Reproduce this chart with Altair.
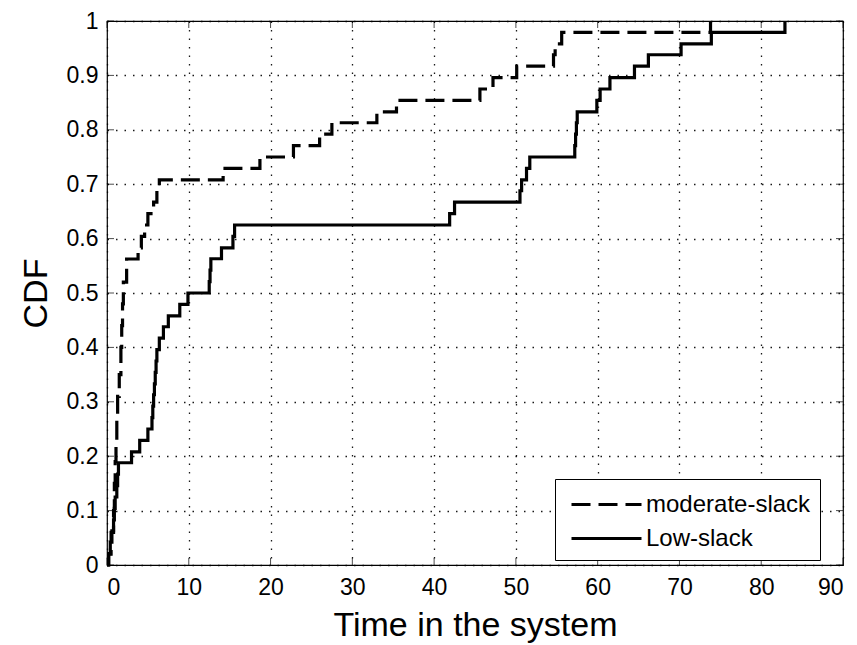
import altair as alt
import pandas as pd

series_names = ["moderate-slack", "Low-slack"]

mod_x = [0, 0.2, 0.5, 0.8, 0.9, 1.0, 1.1, 1.2, 1.3, 1.5, 1.7, 1.8, 1.9, 2.0, 2.4,
         3.8, 4.2, 4.6, 5.0, 5.7, 6.1, 6.4, 14.2, 18.7, 22.8, 26.0, 27.5, 33.0, 35.4,
         45.6, 47.2, 50.1, 54.6, 54.8, 55.6, 73.8]
mod_y = [0, 0.02, 0.06, 0.10, 0.15, 0.19, 0.23, 0.27, 0.31, 0.35, 0.40, 0.44, 0.48, 0.52, 0.5625,
         0.583, 0.604, 0.625, 0.646, 0.667, 0.688, 0.708, 0.729, 0.75, 0.771, 0.792, 0.813, 0.833, 0.854,
         0.875, 0.896, 0.917, 0.938, 0.958, 0.979, 1.0]

low_x = [0, 0.2, 0.4, 0.6, 0.8, 0.9, 1.0, 1.2, 1.3, 1.4, 3.0, 4.0, 5.0,
         5.5, 5.6, 5.7, 5.8, 5.9, 6.0, 6.1, 6.4, 6.9, 7.5, 8.9, 9.9,
         12.5, 12.6, 12.7, 14.0, 15.4, 15.6, 41.9, 42.5, 50.5, 50.7, 51.3, 51.7,
         57.2, 57.3, 57.4, 57.5, 59.9, 60.3, 61.5, 64.5, 66.2, 70.2, 73.9, 82.9]
low_y = [0, 0.021, 0.042, 0.063, 0.083, 0.104, 0.125, 0.146, 0.167, 0.188, 0.208, 0.229, 0.25,
         0.271, 0.292, 0.313, 0.333, 0.354, 0.375, 0.396, 0.417, 0.438, 0.458, 0.479, 0.5,
         0.521, 0.542, 0.563, 0.583, 0.604, 0.625, 0.646, 0.667, 0.688, 0.708, 0.729, 0.75,
         0.771, 0.792, 0.813, 0.833, 0.854, 0.875, 0.896, 0.917, 0.938, 0.958, 0.979, 1.0]

x_ticks = [0, 10, 20, 30, 40, 50, 60, 70, 80, 90]
y_ticks = [0, 0.1, 0.2, 0.3, 0.4, 0.5, 0.6, 0.7, 0.8, 0.9, 1.0]

W, H = 736, 544
FONT = "Liberation Sans"

df = pd.concat([
    pd.DataFrame({"time": mod_x, "cdf": mod_y, "series": series_names[0]}),
    pd.DataFrame({"time": low_x, "cdf": low_y, "series": series_names[1]}),
])

xscale = alt.Scale(domain=[0, 90], nice=False)
yscale = alt.Scale(domain=[0, 1], nice=False)

lines = alt.Chart(df).mark_line(interpolate="step-after", strokeWidth=3.2, color="black").encode(
    x=alt.X("time:Q", scale=xscale,
            axis=alt.Axis(values=x_ticks, title="Time in the system", labelPadding=11,
                          titlePadding=9, format="d")),
    y=alt.Y("cdf:Q", scale=yscale,
            axis=alt.Axis(values=y_ticks, title="CDF", labelPadding=9, titlePadding=13,
                          format="~g")),
    strokeDash=alt.StrokeDash(
        "series:N",
        scale=alt.Scale(domain=series_names, range=[[19, 8], [1, 0]]),
        legend=alt.Legend(
            title=None, orient="none", legendX=448, legendY=458,
            symbolType="M-1,0L3.667,0", symbolSize=900, symbolStrokeWidth=3,
            symbolStrokeColor="black", symbolOffset=6,
            labelFont=FONT, labelFontSize=24, labelColor="black", labelOffset=43,
            labelLimit=400,
            padding=9, rowPadding=5, strokeColor="black", fillColor="white",
        ),
    ),
)

xt = pd.DataFrame({"time": x_ticks})
yt = pd.DataFrame({"cdf": y_ticks})

tick_b = alt.Chart(xt).mark_tick(orient="vertical", size=7, thickness=1, color="black").encode(
    x=alt.X("time:Q", scale=xscale), y=alt.value(H - 3.5))
tick_t = alt.Chart(xt).mark_tick(orient="vertical", size=7, thickness=1, color="black").encode(
    x=alt.X("time:Q", scale=xscale), y=alt.value(3.5))
tick_l = alt.Chart(yt).mark_tick(orient="horizontal", size=7, thickness=1, color="black").encode(
    y=alt.Y("cdf:Q", scale=yscale), x=alt.value(3.5))
tick_r = alt.Chart(yt).mark_tick(orient="horizontal", size=7, thickness=1, color="black").encode(
    y=alt.Y("cdf:Q", scale=yscale), x=alt.value(W - 3.5))

chart = alt.layer(tick_b, tick_t, tick_l, tick_r, lines).properties(
    width=W, height=H,
    autosize=alt.AutoSizeParams(type="none"),
    padding={"left": 107, "top": 21, "right": 14, "bottom": 80},
    background="white",
).configure_view(
    stroke="black", strokeWidth=1.2
).configure_axis(
    domain=False, ticks=False,
    grid=True, gridColor="black", gridDash=[1.5, 7], gridWidth=1.3, gridOpacity=0.9,
    labelFont=FONT, labelFontSize=23, labelColor="black",
    titleFont=FONT, titleFontSize=34, titleFontWeight="normal", titleColor="black",
)

chart.save("out.html", embed_options={"renderer": "svg", "actions": False})
